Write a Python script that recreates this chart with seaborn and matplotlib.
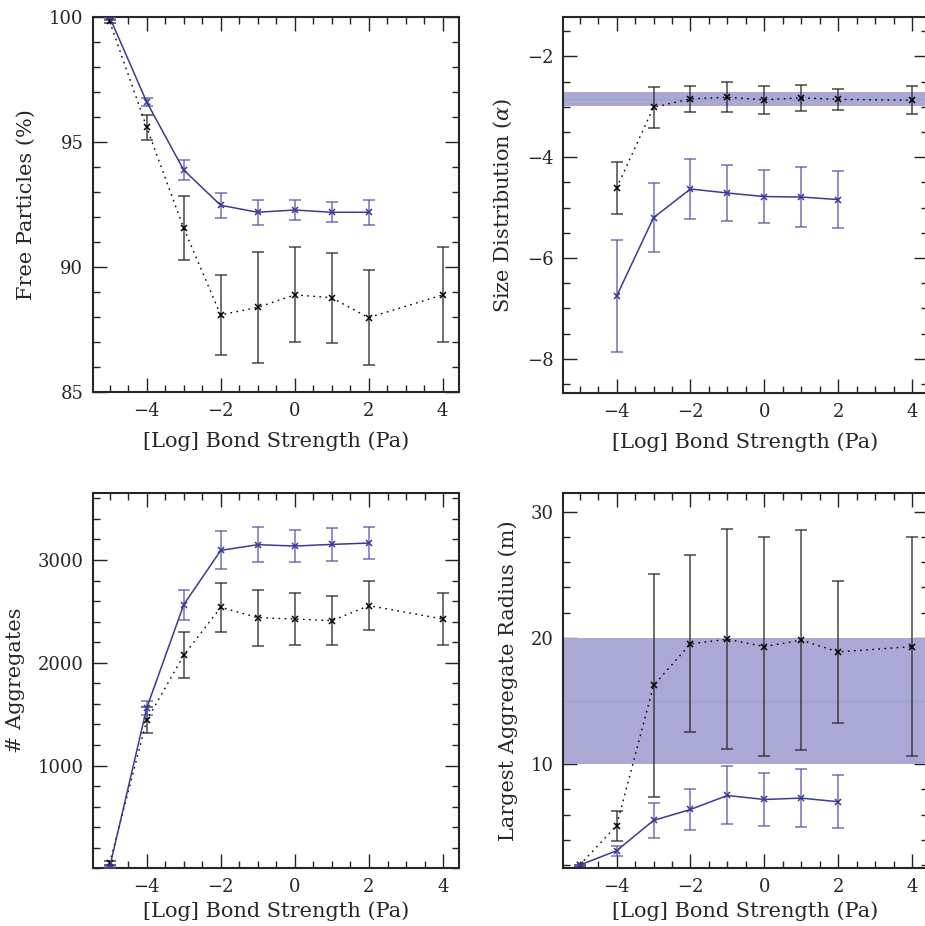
import numpy as np
import pandas as pd
import matplotlib
matplotlib.use("Agg")
import matplotlib.pyplot as plt
from matplotlib.ticker import MultipleLocator
import seaborn as sns

# ---------------- data ----------------
x_black = [-5, -4, -3, -2, -1, 0, 1, 2, 4]
x_blue = [-5, -4, -3, -2, -1, 0, 1, 2]

# Free particles (%)
free_black = [99.81, 95.59, 91.56, 88.09, 88.39, 88.89, 88.78, 87.98, 88.89]
free_black_err = [0.05, 0.5, 1.29, 1.59, 2.2, 1.9, 1.8, 1.9, 1.9]
free_blue = [99.98, 96.6, 93.88, 92.47, 92.19, 92.28, 92.19, 92.19]
free_blue_err = [0.05, 0.17, 0.39, 0.5, 0.49, 0.38, 0.4, 0.49]

# Size distribution (alpha)
size_x_black = [-4, -3, -2, -1, 0, 1, 2, 4]
size_x_blue = [-4, -3, -2, -1, 0, 1, 2]
size_black = [-4.61, -3.01, -2.84, -2.81, -2.86, -2.82, -2.85, -2.87]
size_black_err = [0.51, 0.4, 0.26, 0.3, 0.28, 0.26, 0.21, 0.28]
size_blue = [-6.76, -5.20, -4.63, -4.71, -4.78, -4.79, -4.84]
size_blue_err = [1.11, 0.68, 0.6, 0.56, 0.53, 0.6, 0.57]
size_band = (-2.98, -2.71)
size_band_mid = -2.84

# Number of aggregates
agg_black = [50, 1440, 2073, 2540, 2439, 2426, 2410, 2556, 2426]
agg_black_err = [20, 125, 222, 236, 272, 250, 235, 237, 250]
agg_blue = [10, 1560, 2566, 3094, 3149, 3136, 3152, 3165]
agg_blue_err = [10, 65, 145, 185, 170, 153, 157, 159]

# Largest aggregate radius (m)
rad_black = [2.0, 5.12, 16.23, 19.53, 19.89, 19.31, 19.82, 18.89, 19.31]
rad_black_err = [0.05, 1.17, 8.8, 7.0, 8.7, 8.7, 8.7, 5.6, 8.7]
rad_blue = [2.0, 3.14, 5.54, 6.41, 7.52, 7.20, 7.31, 7.02]
rad_blue_err = [0.05, 0.4, 1.4, 1.6, 2.3, 2.1, 2.3, 2.1]
rad_band = (10, 20)
rad_band_mid = 15

xlabel = "[Log] Bond Strength (Pa)"

# ---------------- style ----------------
sns.set_style("ticks")
plt.rcParams["font.family"] = ["DejaVu Serif"]
plt.rcParams["mathtext.fontset"] = "dejavuserif"

BLUE = "#3a3a96"
BLUE_ERR = "#5a5aaa"
BLACK = "black"
BLACK_ERR = "#2a2a2a"
BAND = "#aaa8d4"
BAND_MID = "#9ba2cf"

W, H = 925, 926
fig = plt.figure(figsize=(W / 100, H / 100), dpi=100)


def add_ax(left, right, top, bottom):
    return fig.add_axes([left / W, 1 - bottom / H, (right - left) / W, (bottom - top) / H])


def minus_fmt(v, p):
    return f"{int(round(v))}".replace("-", "\u2212")


def style_ax(ax, ylim, ymajor, yminor, ylabel, xpad=8):
    ax.set_xlim(-5.45, 4.43)
    ax.set_ylim(*ylim)
    ax.xaxis.set_major_locator(MultipleLocator(2))
    ax.xaxis.set_minor_locator(MultipleLocator(0.5))
    ax.yaxis.set_major_locator(MultipleLocator(ymajor))
    ax.yaxis.set_minor_locator(MultipleLocator(yminor))
    ax.tick_params(which="both", direction="in", top=True, right=True,
                   width=1, color="#222222", labelsize=13)
    ax.tick_params(which="major", length=10, pad=7)
    ax.tick_params(which="minor", length=5)
    for s in ax.spines.values():
        s.set_linewidth(1.5)
    ax.set_xlabel(xlabel, fontsize=15, labelpad=xpad)
    ax.set_ylabel(ylabel, fontsize=15, labelpad=9)
    ax.xaxis.set_major_formatter(plt.FuncFormatter(minus_fmt))


def draw(ax, xb, yb, eb, xu, yu, eu):
    ax.errorbar(xb, yb, yerr=eb, fmt="none", ecolor=BLACK_ERR, elinewidth=1.1,
                capsize=4, capthick=1.1, alpha=0.85, zorder=3)
    ax.errorbar(xu, yu, yerr=eu, fmt="none", ecolor=BLUE_ERR, elinewidth=1.1,
                capsize=4, capthick=1.1, alpha=0.85, zorder=3)
    db = pd.DataFrame({"x": xb, "y": yb})
    du = pd.DataFrame({"x": xu, "y": yu})
    sns.lineplot(data=db, x="x", y="y", ax=ax, color=BLACK, linestyle=(0, (1.2, 3.2)),
                 linewidth=1.0, marker="x", markersize=4, markeredgewidth=1.1,
                 markeredgecolor=BLACK, zorder=4)
    sns.lineplot(data=du, x="x", y="y", ax=ax, color=BLUE, linewidth=1.1,
                 marker="x", markersize=4, markeredgewidth=1.1,
                 markeredgecolor=BLUE, zorder=5)


# Top-left
ax1 = add_ax(93, 458.5, 16.7, 392.3)
draw(ax1, x_black, free_black, free_black_err, x_blue, free_blue, free_blue_err)
style_ax(ax1, (85, 100), 5, 1, "Free Particles (%)")

# Top-right
ax2 = add_ax(563, 928, 16.7, 393)
ax2.axhspan(*size_band, color=BAND, lw=0, zorder=1)
ax2.axhline(size_band_mid, color=BAND_MID, lw=1, zorder=1.5)
draw(ax2, size_x_black, size_black, size_black_err, size_x_blue, size_blue, size_blue_err)
style_ax(ax2, (-8.68, -1.21), 2, 0.5, r"Size Distribution ($\alpha$)")
ax2.yaxis.set_major_formatter(plt.FuncFormatter(minus_fmt))

# Bottom-left
ax3 = add_ax(93, 459, 492.7, 868.3)
draw(ax3, x_black, agg_black, agg_black_err, x_blue, agg_blue, agg_blue_err)
style_ax(ax3, (0, 3655), 1000, 200, "# Aggregates", xpad=4)
ax3.set_yticks([1000, 2000, 3000])

# Bottom-right
ax4 = add_ax(563, 928, 492.7, 868.3)
ax4.axhspan(*rad_band, color=BAND, lw=0, zorder=1)
ax4.axhline(rad_band_mid, color=BAND_MID, lw=1, zorder=1.5)
draw(ax4, x_black, rad_black, rad_black_err, x_blue, rad_blue, rad_blue_err)
style_ax(ax4, (1.75, 31.5), 10, 2, "Largest Aggregate Radius (m)", xpad=4)

fig.savefig("out.png", dpi=100)
